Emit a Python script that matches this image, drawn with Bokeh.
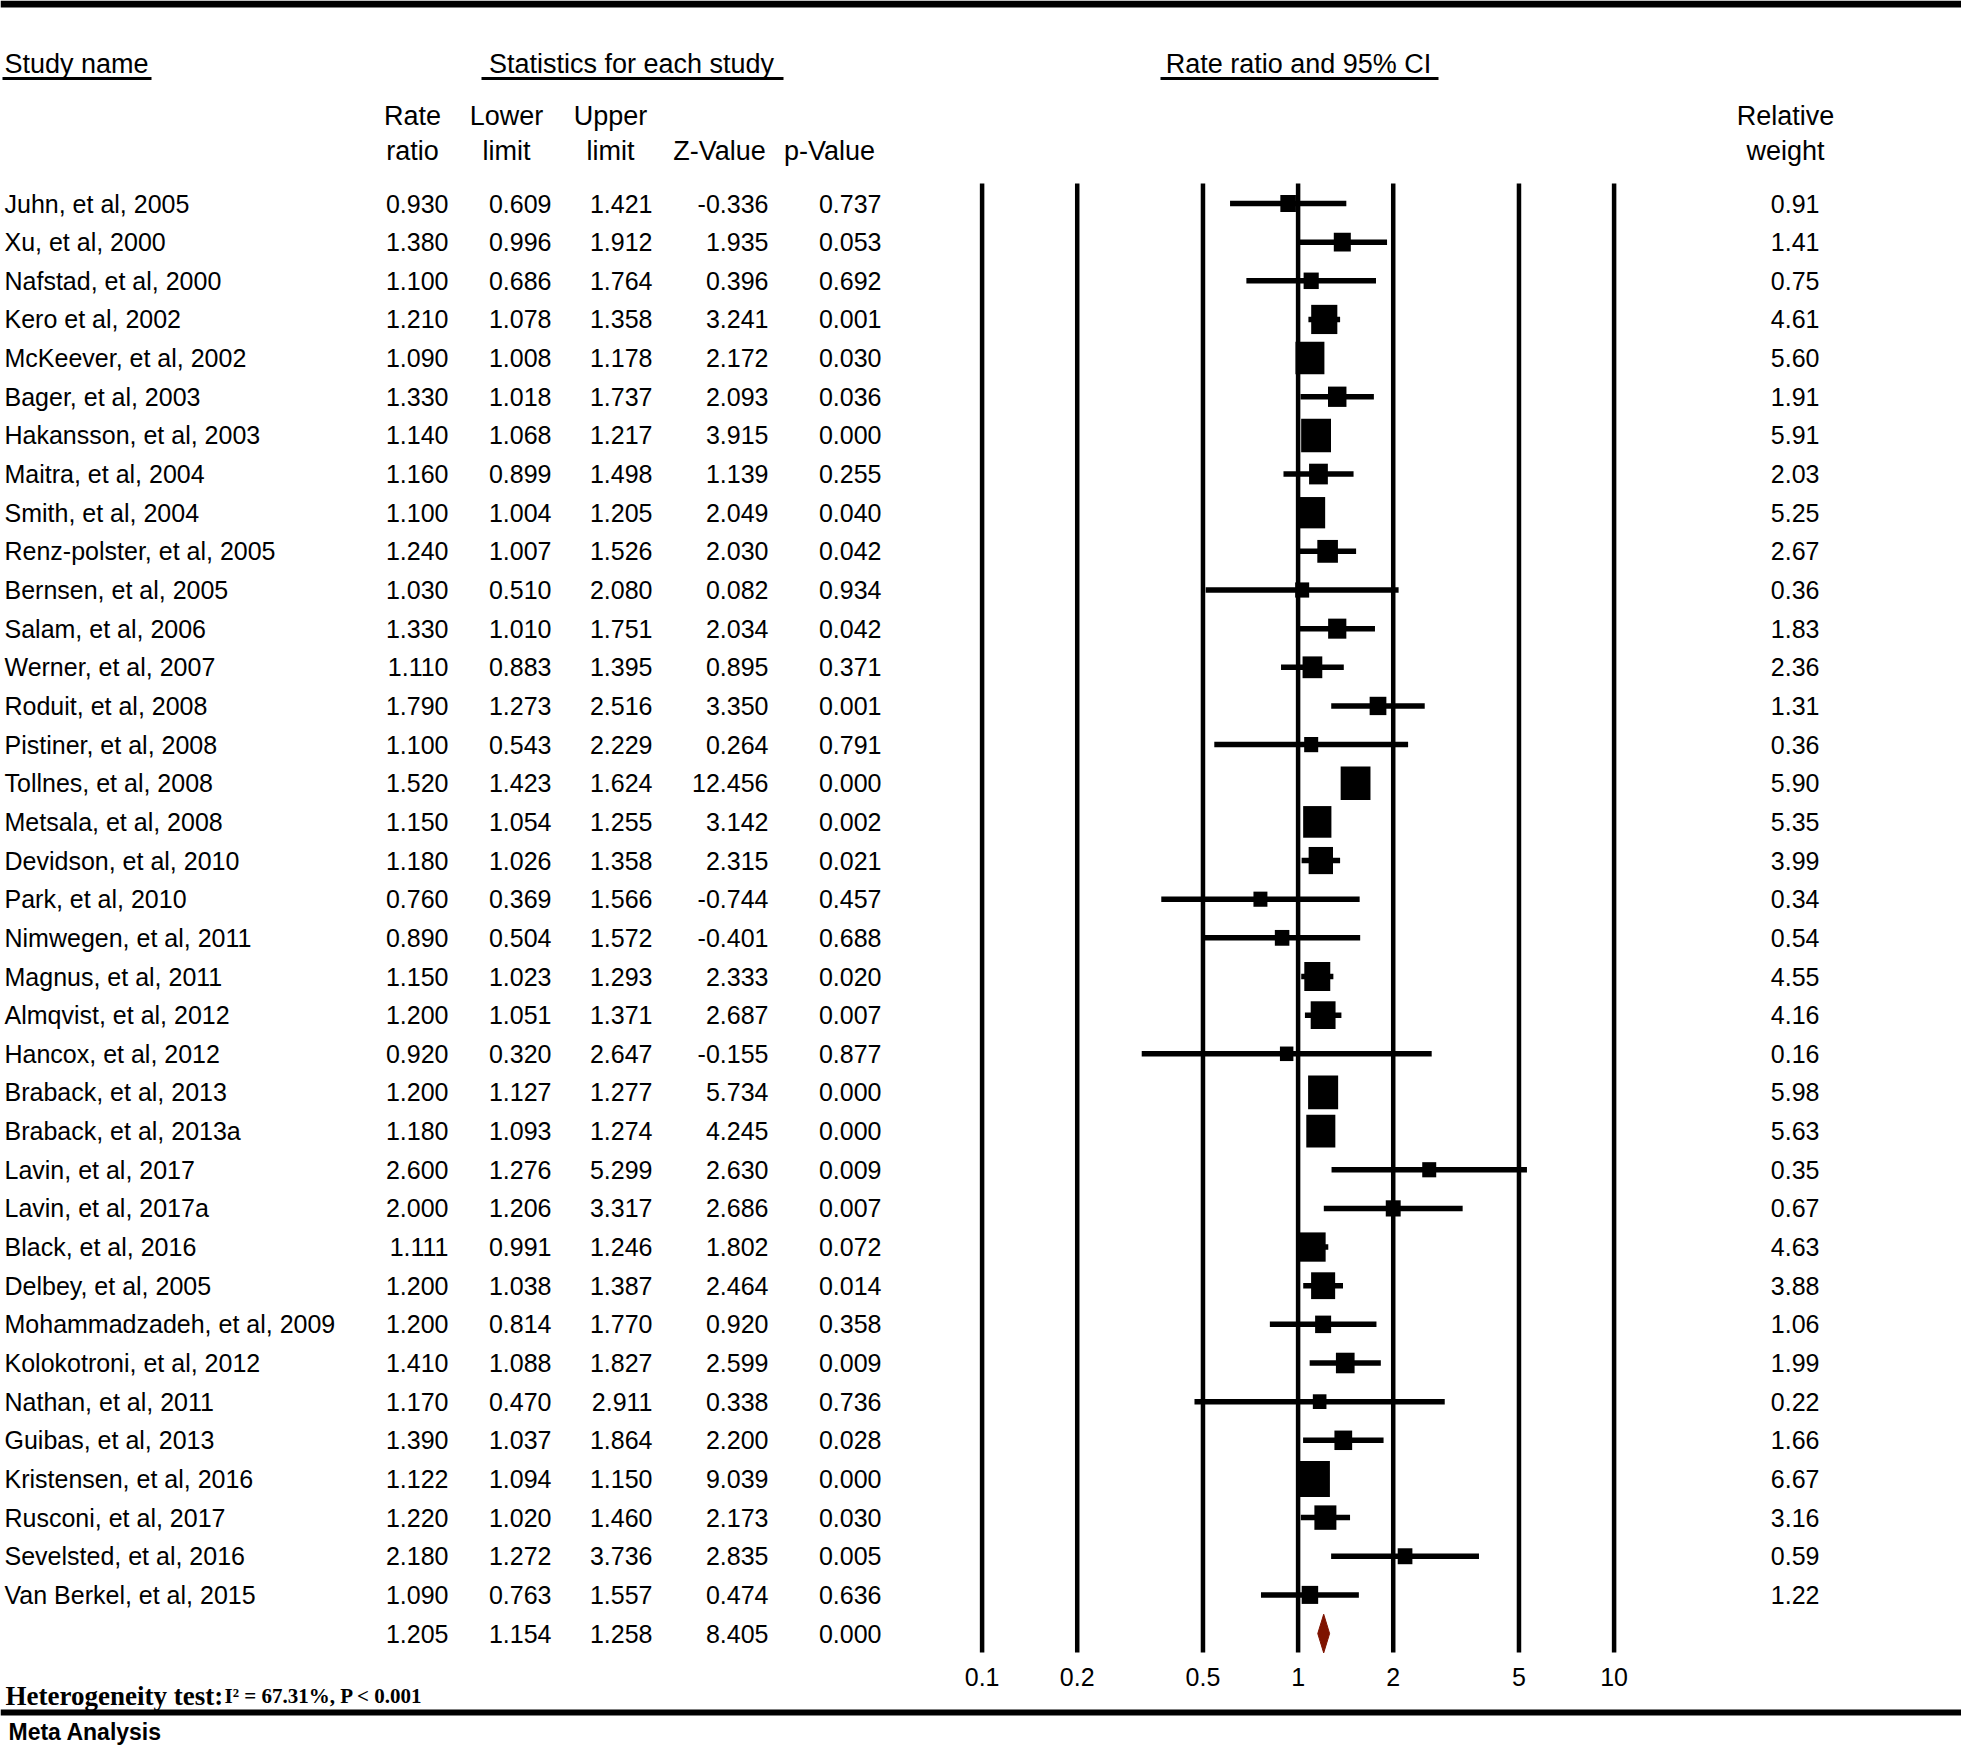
import math
from bokeh.plotting import figure
from bokeh.models import Range1d, LogScale, ColumnDataSource
from bokeh.core.properties import value
from bokeh.embed import file_html
from bokeh.resources import INLINE

# ---------------- data ----------------
studies = ["Juhn, et al, 2005", "Xu, et al, 2000", "Nafstad, et al, 2000", "Kero et al, 2002",
           "McKeever, et al, 2002", "Bager, et al, 2003", "Hakansson, et al, 2003", "Maitra, et al, 2004",
           "Smith, et al, 2004", "Renz-polster, et al, 2005", "Bernsen, et al, 2005", "Salam, et al, 2006",
           "Werner, et al, 2007", "Roduit, et al, 2008", "Pistiner, et al, 2008", "Tollnes, et al, 2008",
           "Metsala, et al, 2008", "Devidson, et al, 2010", "Park, et al, 2010", "Nimwegen, et al, 2011",
           "Magnus, et al, 2011", "Almqvist, et al, 2012", "Hancox, et al, 2012", "Braback, et al, 2013",
           "Braback, et al, 2013a", "Lavin, et al, 2017", "Lavin, et al, 2017a", "Black, et al, 2016",
           "Delbey, et al, 2005", "Mohammadzadeh, et al, 2009", "Kolokotroni, et al, 2012", "Nathan, et al, 2011",
           "Guibas, et al, 2013", "Kristensen, et al, 2016", "Rusconi, et al, 2017", "Sevelsted, et al, 2016",
           "Van Berkel, et al, 2015"]
rate = [0.930, 1.380, 1.100, 1.210, 1.090, 1.330, 1.140, 1.160, 1.100, 1.240, 1.030, 1.330, 1.110,
        1.790, 1.100, 1.520, 1.150, 1.180, 0.760, 0.890, 1.150, 1.200, 0.920, 1.200, 1.180, 2.600,
        2.000, 1.111, 1.200, 1.200, 1.410, 1.170, 1.390, 1.122, 1.220, 2.180, 1.090]
lower = [0.609, 0.996, 0.686, 1.078, 1.008, 1.018, 1.068, 0.899, 1.004, 1.007, 0.510, 1.010, 0.883,
         1.273, 0.543, 1.423, 1.054, 1.026, 0.369, 0.504, 1.023, 1.051, 0.320, 1.127, 1.093, 1.276,
         1.206, 0.991, 1.038, 0.814, 1.088, 0.470, 1.037, 1.094, 1.020, 1.272, 0.763]
upper = [1.421, 1.912, 1.764, 1.358, 1.178, 1.737, 1.217, 1.498, 1.205, 1.526, 2.080, 1.751, 1.395,
         2.516, 2.229, 1.624, 1.255, 1.358, 1.566, 1.572, 1.293, 1.371, 2.647, 1.277, 1.274, 5.299,
         3.317, 1.246, 1.387, 1.770, 1.827, 2.911, 1.864, 1.150, 1.460, 3.736, 1.557]
z_value = [-0.336, 1.935, 0.396, 3.241, 2.172, 2.093, 3.915, 1.139, 2.049, 2.030, 0.082, 2.034, 0.895,
           3.350, 0.264, 12.456, 3.142, 2.315, -0.744, -0.401, 2.333, 2.687, -0.155, 5.734, 4.245, 2.630,
           2.686, 1.802, 2.464, 0.920, 2.599, 0.338, 2.200, 9.039, 2.173, 2.835, 0.474]
p_value = [0.737, 0.053, 0.692, 0.001, 0.030, 0.036, 0.000, 0.255, 0.040, 0.042, 0.934, 0.042, 0.371,
           0.001, 0.791, 0.000, 0.002, 0.021, 0.457, 0.688, 0.020, 0.007, 0.877, 0.000, 0.000, 0.009,
           0.007, 0.072, 0.014, 0.358, 0.009, 0.736, 0.028, 0.000, 0.030, 0.005, 0.636]
rel_weight = [0.91, 1.41, 0.75, 4.61, 5.60, 1.91, 5.91, 2.03, 5.25, 2.67, 0.36, 1.83, 2.36, 1.31, 0.36,
              5.90, 5.35, 3.99, 0.34, 0.54, 4.55, 4.16, 0.16, 5.98, 5.63, 0.35, 0.67, 4.63, 3.88, 1.06,
              1.99, 0.22, 1.66, 6.67, 3.16, 0.59, 1.22]
summary_rate, summary_lower, summary_upper = 1.205, 1.154, 1.258
summary_z, summary_p = 8.405, 0.000
tick_values = [0.1, 0.2, 0.5, 1, 2, 5, 10]
tick_labels = ["0.1", "0.2", "0.5", "1", "2", "5", "10"]
heterogeneity_label = "Heterogeneity test:"
heterogeneity_stats = "I\u00b2 = 67.31%, P < 0.001"
footer = "Meta Analysis"

# ---------------- layout ----------------
W, H = 1961, 1745
OFF = 0
ROW0, ROW_H = 203.0, 38.65  # pixel y of first row, row pitch
X_ONE, DEC = 1297.6, 316.0  # pixel x of RR = 1, pixels per decade

FONT = "Liberation Sans"
SERIF = "Liberation Serif"
ROW_SIZE = "25px"
HEAD_SIZE = "27px"


def ry(pix):
    return (pix - ROW0) / ROW_H


p = figure(width=W, height=H, output_backend="svg", toolbar_location=None,
           x_range=Range1d(OFF, OFF + W),
           y_range=Range1d(ry(OFF + H), ry(OFF)),
           x_axis_location=None, y_axis_location=None,
           min_border=0, outline_line_color=None,
           background_fill_color="white", border_fill_color="white")
p.grid.visible = False
p.extra_x_ranges = {"log": Range1d(10 ** ((OFF - X_ONE) / DEC), 10 ** ((OFF + W - X_ONE) / DEC))}
p.extra_x_scales = {"log": LogScale()}


def txt(x, y, s, size, align="left", font=FONT, style="normal", baseline="middle"):
    p.text(x=x, y=y, text=s, text_align=align, text_baseline=baseline,
           text_font=value(font), text_font_size=value(size), text_font_style=style,
           text_color="black")


n = len(studies)
rows = list(range(n))

# table columns
txt([4] * n, rows, studies, ROW_SIZE)
col_right = [448, 551, 652, 768, 881]
cols = [rate, lower, upper, z_value, p_value]
for xr, vals in zip(col_right, cols):
    txt([xr] * n, rows, ["%.3f" % v for v in vals], ROW_SIZE, align="right")
summary_vals = [summary_rate, summary_lower, summary_upper, summary_z, summary_p]
txt(col_right, [n] * 5, ["%.3f" % v for v in summary_vals], ROW_SIZE, align="right")
txt([1819] * n, rows, ["%.2f" % v for v in rel_weight], ROW_SIZE, align="right")

# headers
txt([4], [ry(63)], ["Study name"], HEAD_SIZE)
txt([631], [ry(63)], ["Statistics for each study"], HEAD_SIZE, align="center")
txt([1298], [ry(63)], ["Rate ratio and 95% CI"], HEAD_SIZE, align="center")
p.segment(x0=[2, 481, 1160], x1=[151, 783, 1438], y0=[ry(78)] * 3, y1=[ry(78)] * 3,
          line_color="black", line_width=3)
hx = [412, 506, 610]
txt(hx, [ry(115)] * 3, ["Rate", "Lower", "Upper"], HEAD_SIZE, align="center")
txt(hx + [719, 829], [ry(150)] * 5, ["ratio", "limit", "limit", "Z-Value", "p-Value"], HEAD_SIZE, align="center")
txt([1785, 1785], [ry(115), ry(150)], ["Relative", "weight"], HEAD_SIZE, align="center")

# forest plot: vertical reference lines and tick labels (log scale)
p.segment(x0=tick_values, x1=tick_values, y0=[ry(183)] * len(tick_values), y1=[ry(1652)] * len(tick_values),
          x_range_name="log", line_color="black", line_width=4.5)
p.text(x=tick_values, y=[ry(1676)] * len(tick_values), text=tick_labels, x_range_name="log",
       text_align="center", text_baseline="middle", text_font=value(FONT),
       text_font_size=value("25px"), text_color="black")

# confidence intervals and weight squares
src = ColumnDataSource(dict(
    rate=rate, lower=lower, upper=upper, row=rows,
    w=[13 + 2.85 * v for v in rel_weight],
    h=[14 + 3.3 * v for v in rel_weight],
))
p.segment(x0="lower", x1="upper", y0="row", y1="row", source=src, x_range_name="log",
          line_color="black", line_width=5.5)
p.rect(x="rate", y="row", width="w", height="h", width_units="screen", height_units="screen",
       source=src, x_range_name="log", fill_color="black", line_color="black", line_width=0)

# summary diamond
half = 0.5
p.patch(x=[summary_lower, summary_rate, summary_upper, summary_rate],
        y=[n, n - half, n, n + half], x_range_name="log",
        fill_color="#7E1300", line_color="#7E1300", line_width=1)

# thick rules
p.quad(left=[0, 0], right=[W, W], top=[ry(0), ry(1709)], bottom=[ry(7), ry(1715)],
       fill_color="black", line_color=None)

# footer texts
txt([5], [ry(1695)], [heterogeneity_label], "27px", font=SERIF, style="bold", baseline="alphabetic")
txt([224], [ry(1695)], [heterogeneity_stats], "21px", font=SERIF, style="bold", baseline="alphabetic")
txt([8], [ry(1731)], [footer], "23px", font=FONT, style="bold")

open("out.html", "w").write(file_html(p, INLINE))
